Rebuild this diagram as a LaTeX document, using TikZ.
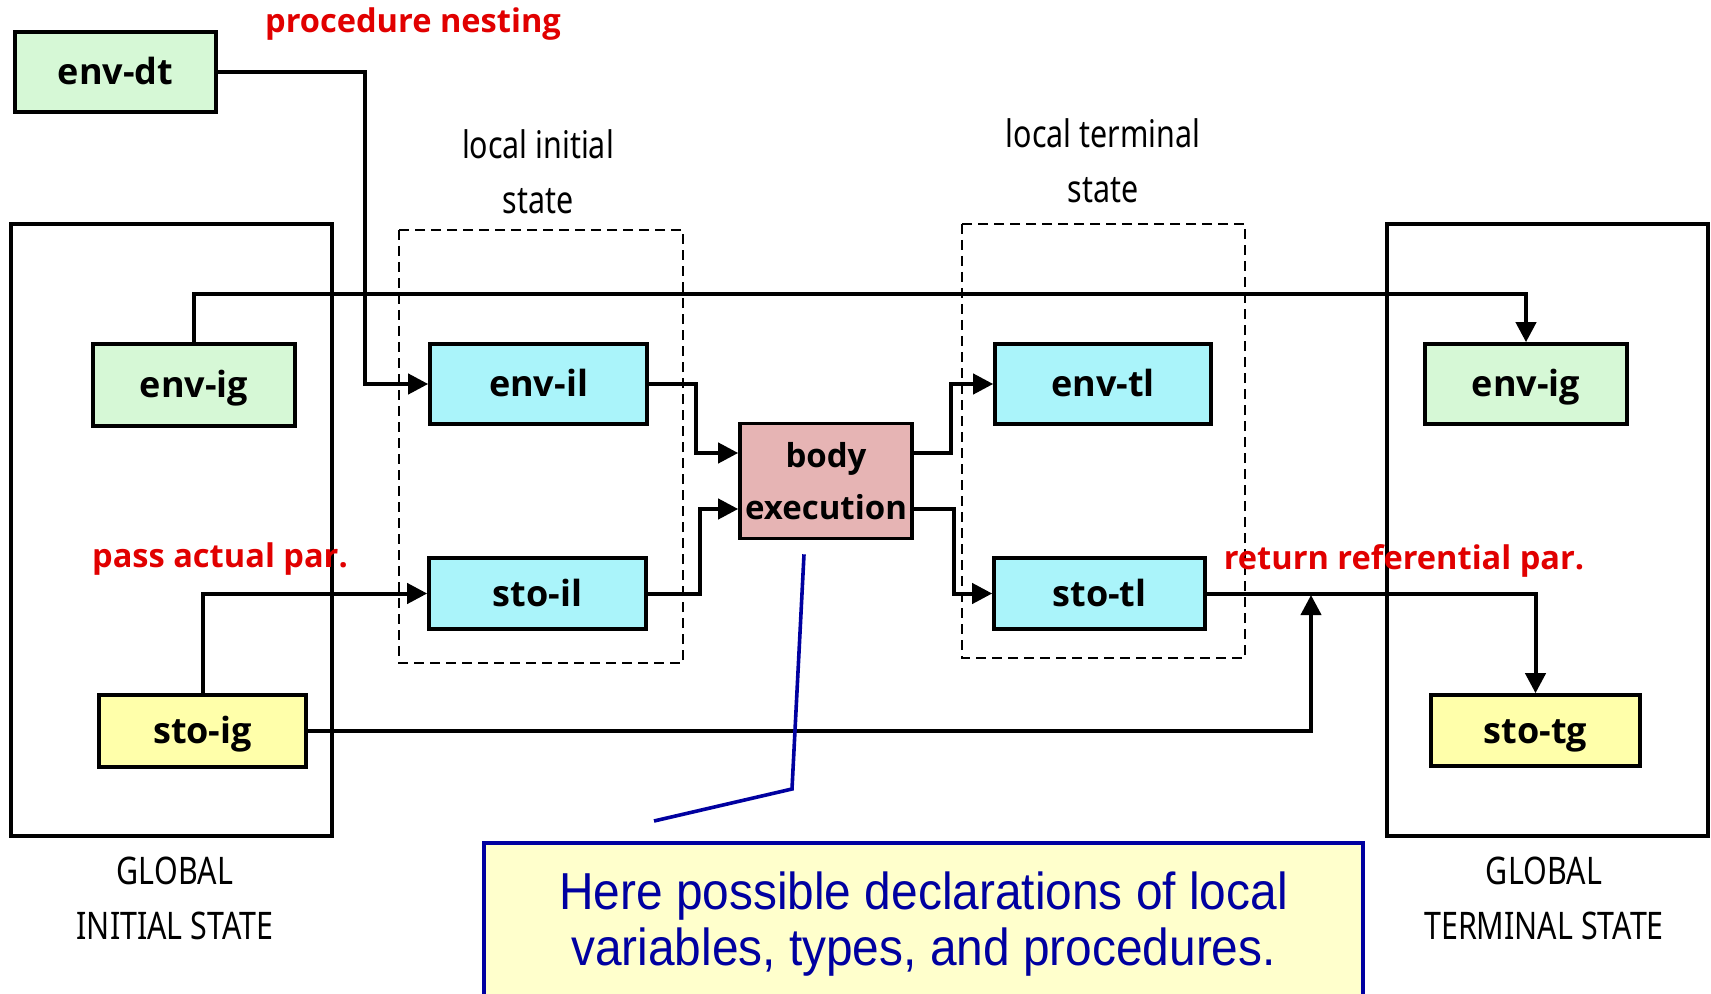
\documentclass[tikz,border=0pt]{standalone}
\usepackage{fontspec}
\setmainfont{Open Sans}
\newfontfamily\condfont[FakeStretch=0.8]{Noto Sans}
\newfontfamily\notefont[FakeStretch=0.92]{Liberation Sans}
\usetikzlibrary{arrows.meta}
\definecolor{envgreen}{RGB}{214,248,214}
\definecolor{loccyan}{RGB}{170,244,250}
\definecolor{stoyellow}{RGB}{255,255,170}
\definecolor{bodypink}{RGB}{230,180,180}
\definecolor{parred}{RGB}{225,0,0}
\definecolor{notenavy}{RGB}{0,0,160}
\definecolor{notefill}{RGB}{255,255,204}

\begin{document}
\begin{tikzpicture}[x=0.5pt,y=-0.5pt,every node/.style={align=center},
  box/.style={draw,line width=1.8pt,inner sep=0pt,font=\fontsize{18}{26}\selectfont\bfseries},
  lbox/.style={box,text height=15pt,text depth=2.4pt},
  envbox/.style={lbox,fill=envgreen},
  locbox/.style={lbox,fill=loccyan},
  stobox/.style={lbox,fill=stoyellow},
  flow/.style={line width=2pt,-{Triangle[length=10pt,width=10pt]}},
  partext/.style={text=parred,font=\fontsize{16.3}{18}\selectfont\bfseries},
  statetext/.style={font=\condfont\fontsize{19}{27.5}\selectfont},
  frame/.style={line width=1.6pt},
  localframe/.style={line width=1.3pt,dashed,dash pattern=on 5pt off 3pt}
]
\useasboundingbox (0,0) rectangle (1711,994);
\clip (0,0) rectangle (1711,994);

% global and local states
\draw[frame] (11,224) rectangle (332,836);
\draw[frame] (1387,224) rectangle (1708,836);
\draw[localframe] (399,230) rectangle (683,663);
\draw[localframe] (962,224) rectangle (1245,658);

\node[statetext] (lisText) at (538,172) {local initial\\state};
\node[statetext] (ltsText) at (1103,161) {local terminal\\state};
\node[statetext] (gisText) at (175,898) {GLOBAL\\INITIAL STATE};
\node[statetext] (gtsText) at (1544,898) {GLOBAL\\TERMINAL STATE};

% boxes
\node[envbox,minimum width=100.5pt,minimum height=40pt] (envdt) at (115.5,72) {env-dt};
\node[envbox,minimum width=101pt,minimum height=41pt] (envig) at (194,385) {env-ig};
\node[stobox,minimum width=103.5pt,minimum height=36pt] (stoig) at (202.5,731) {sto-ig};
\node[locbox,minimum width=108.5pt,minimum height=40pt] (envil) at (538.5,384) {env-il};
\node[locbox,minimum width=108.5pt,minimum height=35.5pt] (stoil) at (537.5,593.5) {sto-il};
\node[box,fill=bodypink,minimum width=86pt,minimum height=57.5pt,
  font=\fontsize{16.5}{26}\selectfont\bfseries] (body) at (826,481) {body\\execution};
\node[locbox,minimum width=108pt,minimum height=40pt] (envtl) at (1103,384) {env-tl};
\node[locbox,minimum width=105.5pt,minimum height=35.5pt] (stotl) at (1099.5,593.5) {sto-tl};
\node[envbox,minimum width=101pt,minimum height=40pt] (envtg) at (1526,384) {env-ig};
\node[stobox,minimum width=104.5pt,minimum height=35.5pt] (stotg) at (1535.5,730.5) {sto-tg};

\node[partext] (nestText) at (413,24) {procedure nesting};
\node[partext] (passText) at (220,559) {pass actual par.};
\node[partext] (retText) at (1404,561) {return referential par.};

% connectors
\draw[flow] (envdt.east) -- ++(147,0) |- (envil.west);
\draw[flow] (envig.north) -- ++(0,-48) -| (envtg.north);
\draw[flow] (stoig.north) |- (stoil.west);
\draw[flow] (envil.east) -- ++(47,0) |- ([yshift=14pt]body.west);
\draw[flow] (stoil.east) -- ++(52,0) |- ([yshift=-14pt]body.west);
\draw[flow] ([yshift=14pt]body.east) -- ++(37,0) |- (envtl.west);
\draw[flow] ([yshift=-14pt]body.east) -- ++(40,0) |- (stotl.west);
\draw[flow] (stotl.east) -| (stotg.north);
\coordinate (retjoin) at (1311,595);
\draw[flow] (stoig.east) -| (retjoin);

% note
\node[draw=notenavy,line width=1.8pt,fill=notefill,text=notenavy,minimum width=439.5pt,minimum height=81pt,
  font=\notefont\fontsize{26}{28}\selectfont] (note) at (923.5,924)
  {Here possible declarations of local\\variables, types, and procedures.};
\coordinate (notebend) at (792,789);
\coordinate (noteend) at (654,821);
\draw[notenavy,line width=1.8pt] ([xshift=-11pt,yshift=-7pt]body.south) -- (notebend) -- (noteend);
\end{tikzpicture}
\end{document}
